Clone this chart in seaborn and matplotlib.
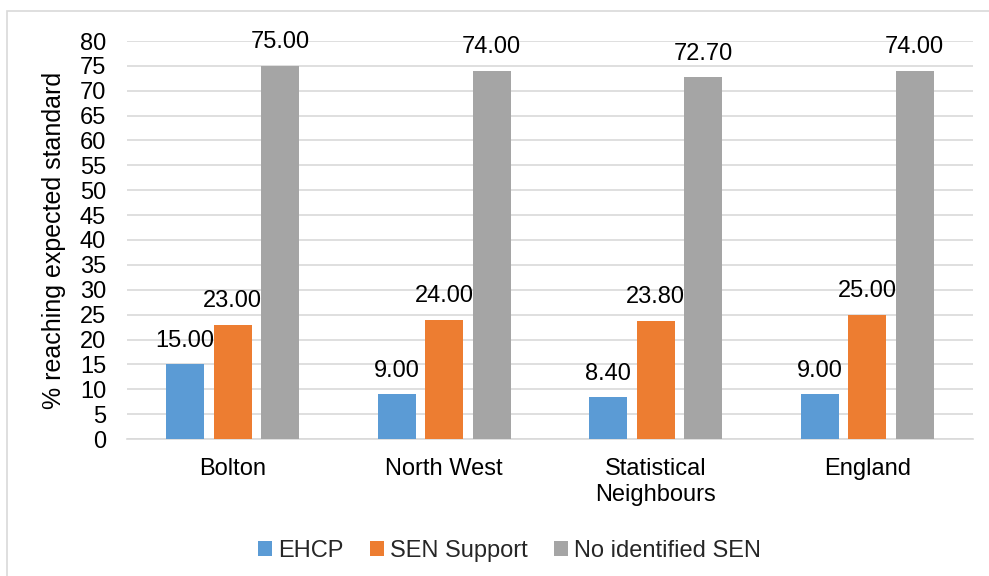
import matplotlib
matplotlib.use("Agg")
import matplotlib.pyplot as plt
import seaborn as sns
import pandas as pd
from matplotlib.patches import Rectangle

areas = ["Bolton", "North West", "Statistical\nNeighbours", "England"]
ehcp = [15.00, 9.00, 8.40, 9.00]
sen_support = [23.00, 24.00, 23.80, 25.00]
no_sen = [75.00, 74.00, 72.70, 74.00]
groups = ["EHCP", "SEN Support", "No identified SEN"]
colors = ["#5B9BD5", "#ED7D31", "#A5A5A5"]
y_ticks = list(range(0, 81, 5))

rows = []
for g, vals in zip(groups, [ehcp, sen_support, no_sen]):
    for a, v in zip(areas, vals):
        rows.append({"Area": a, "Group": g, "Value": v})
df = pd.DataFrame(rows)

sns.set_theme(style="white")
plt.rcParams["font.family"] = ["Liberation Sans", "DejaVu Sans"]
FS = 17

fig = plt.figure(figsize=(9.89, 5.76), dpi=100)
ax = fig.add_axes([127 / 989, 1 - 439 / 576, 846 / 989, 398 / 576])

sns.barplot(data=df, x="Area", y="Value", hue="Group", order=areas,
            hue_order=groups, palette=colors, width=0.674, gap=0.21,
            saturation=1, errorbar=None, linewidth=0, ax=ax, zorder=3)

for cont in ax.containers:
    ax.bar_label(cont, fmt="%.2f", padding=9, fontsize=FS, color="#000000")

ax.set_ylim(0, 80)
ax.set_yticks(y_ticks)
ax.tick_params(axis="y", labelsize=FS, length=0, pad=15, colors="#000000")
ax.tick_params(axis="x", labelsize=FS, length=0, pad=14, colors="#000000")
ax.set_xlabel("")
ax.set_ylabel("% reaching expected standard", fontsize=18, color="#000000",
              labelpad=10)
ax.yaxis.grid(True, color="#D9D9D9", linewidth=1.2, zorder=0)
ax.set_axisbelow(True)
for side in ["top", "right", "left"]:
    ax.spines[side].set_visible(False)
ax.spines["bottom"].set_color("#D9D9D9")
ax.spines["bottom"].set_linewidth(1.2)

ax.legend(loc="upper center", bbox_to_anchor=(0.452, -0.2), ncol=3,
          frameon=False, fontsize=FS, handlelength=0.6, handleheight=0.6,
          handletextpad=0.25, columnspacing=1.1)

# outer chart border
fig.add_artist(Rectangle((7 / 989, -0.1), 1.1, 1 - 11 / 576 + 0.1,
                         transform=fig.transFigure, fill=False,
                         edgecolor="#D9D9D9", linewidth=1.2))

fig.savefig("out.png", dpi=100, facecolor="white")
